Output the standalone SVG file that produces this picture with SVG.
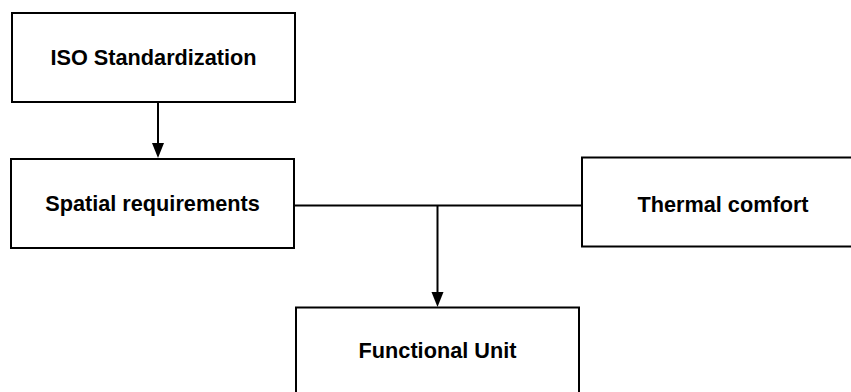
<svg xmlns="http://www.w3.org/2000/svg" width="851" height="392" viewBox="0 0 851 392">
  <defs>
    <marker id="arrow" markerUnits="userSpaceOnUse" markerWidth="12" markerHeight="16" refX="6" refY="15" orient="auto-start-reverse" viewBox="0 0 12 16">
      <path d="M0,0 L12,0 L6,15 Z" fill="#000"/>
    </marker>
    <style>
      .box { fill: #fff; stroke: #000; stroke-width: 2; }
      .label { font-family: "Liberation Sans", Arial, sans-serif; font-weight: bold; font-size: 21.7px; fill: #000; text-anchor: middle; }
      .conn { fill: none; stroke: #000; stroke-width: 2; }
    </style>
  </defs>
  <rect x="0" y="0" width="851" height="392" fill="#fff"/>
  <g id="connectors">
    <line class="conn" x1="158" y1="102" x2="158" y2="143"/>
    <path d="M152,143 L164,143 L158,158 Z" fill="#000"/>
    <line class="conn" x1="294" y1="205.5" x2="582" y2="205.5"/>
    <line class="conn" x1="437.5" y1="205.5" x2="437.5" y2="292"/>
    <path d="M431.5,292 L443.5,292 L437.5,307 Z" fill="#000"/>
  </g>
  <g id="iso">
    <rect class="box" x="12" y="13" width="283" height="89"/>
    <text class="label" x="153.5" y="65">ISO Standardization</text>
  </g>
  <g id="spatial">
    <rect class="box" x="11" y="159" width="283" height="89"/>
    <text class="label" x="152.5" y="211">Spatial requirements</text>
  </g>
  <g id="thermal">
    <rect class="box" x="582" y="157.5" width="280" height="89"/>
    <text class="label" x="723" y="211.5">Thermal comfort</text>
  </g>
  <g id="functional">
    <rect class="box" x="296" y="307.5" width="283" height="100"/>
    <text class="label" x="437.5" y="358">Functional Unit</text>
  </g>
</svg>
